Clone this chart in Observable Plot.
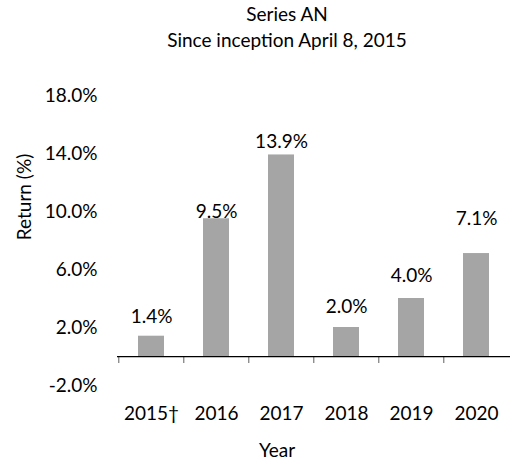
<!DOCTYPE html>
<html>
<head>
<meta charset="utf-8">
<script src="https://cdn.jsdelivr.net/npm/d3@7"></script>
<script src="https://cdn.jsdelivr.net/npm/@observablehq/plot@0.6"></script>
<style>
  html, body { margin: 0; padding: 0; background: #fff; }
  #wrap { position: relative; width: 510px; height: 466px; font-family: Lato, "Open Sans", sans-serif; color: #000; }
  .t { position: absolute; font-size: 19px; line-height: 20px; white-space: nowrap; transform: translate(-50%, -50%); }
  #ylab { transform: translate(-50%, -50%) rotate(-90deg); }
  svg { position: absolute; left: 0; top: 0; }
</style>
</head>
<body>
<div id="wrap">
  <div class="t" style="left:287px; top:14px;">Series AN</div>
  <div class="t" style="left:287px; top:40px;">Since inception April 8, 2015</div>
  <div class="t" id="ylab" style="left:24px; top:197px;">Return (%)</div>
  <div class="t" style="left:277px; top:450px;">Year</div>
</div>
<script>
const years = ["2015†", "2016", "2017", "2018", "2019", "2020"];
const returns = [1.4, 9.5, 13.9, 2.0, 4.0, 7.1];
const yTicks = [-2, 2, 6, 10, 14, 18];

const data = years.map((year, i) => ({year, value: returns[i]}));

const W = 510, H = 466, ML = 117, MR = 0;
const step = (W - ML - MR) / years.length;
// label offsets above each bar (pixels, as placed in the original)
const labelDy = [-19, -7, -13, -21, -23, -35];

const chart = Plot.plot({
  width: W,
  height: H,
  marginTop: 95,
  marginBottom: 81,
  marginLeft: ML,
  marginRight: MR,
  style: {fontFamily: "Lato, 'Open Sans', sans-serif", fontSize: "19px", color: "#000", background: "transparent"},
  x: {domain: years, paddingInner: 0.6, paddingOuter: 0.3},
  y: {domain: [-2, 18]},
  marks: [
    Plot.barY(data, {x: "year", y: "value", fill: "#a5a5a5"}),
    Plot.ruleX(years, {x: d => d, y1: 0, y2: -0.48, dx: -step / 2, stroke: "#7f7f7f", strokeWidth: 1.25}),
    Plot.ruleY([0], {stroke: "#000", strokeWidth: 1.25}),
    ...data.map((d, i) => Plot.text([d], {
      x: "year", y: "value", text: v => v.value.toFixed(1) + "%",
      dy: labelDy[i], lineAnchor: "middle", fill: "#000", fontSize: 19
    })),
    Plot.axisY({ticks: yTicks, tickFormat: d => d.toFixed(1) + "%", tickSize: 0, tickPadding: 20, label: null, fontSize: 19}),
    Plot.axisX({tickSize: 0, tickPadding: 21, label: null, fontSize: 19})
  ]
});
document.getElementById("wrap").appendChild(chart);
</script>
</body>
</html>
